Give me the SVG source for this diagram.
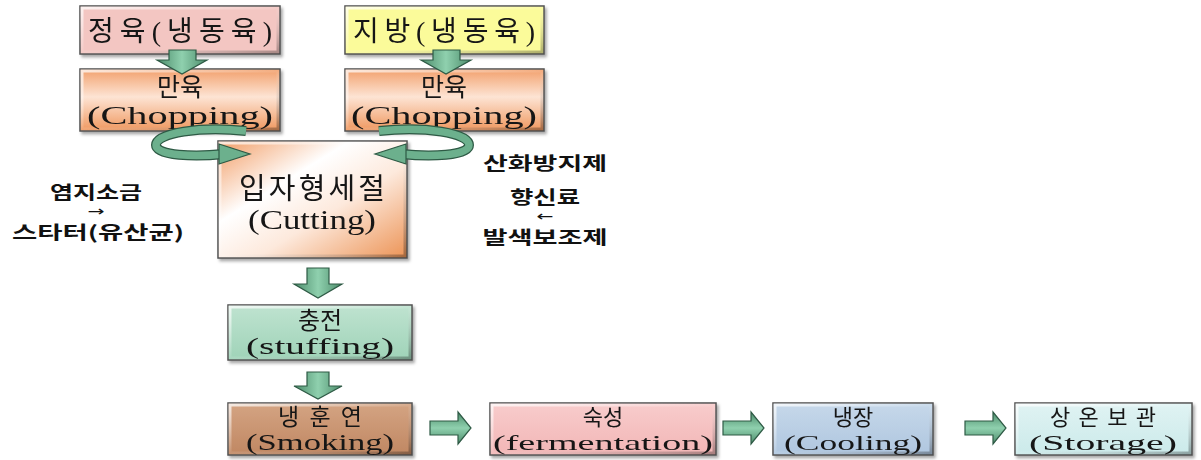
<svg xmlns="http://www.w3.org/2000/svg" width="1201" height="460" viewBox="0 0 1201 460">
<style>
.box{stroke:#505050;stroke-width:1.5}
.bev{fill:none;stroke:url(#bevel);stroke-width:3}
.t{font-family:'Liberation Serif','Noto Sans CJK KR',serif;fill:#161616;text-anchor:middle}
.side{font-family:'Noto Sans CJK KR',sans-serif;font-weight:bold;fill:#111;text-anchor:middle}
.arr{font-family:'DejaVu Sans',sans-serif;fill:#111;text-anchor:middle}
.av{fill:url(#gv);stroke:#2e5a45;stroke-width:1.2}
.ah{fill:url(#gh);stroke:#2e5a45;stroke-width:1.2}
.curveO{fill:none;stroke:#2e5a45;stroke-width:10;stroke-linecap:butt}
.curveI{fill:none;stroke:#6cb08d;stroke-width:7.5;stroke-linecap:butt}
</style>
<defs>
<filter id="sh" x="-10%" y="-10%" width="125%" height="130%"><feDropShadow dx="2" dy="2.5" stdDeviation="1.5" flood-color="#000" flood-opacity="0.35"/></filter>
<linearGradient id="bevel" x1="0" y1="0" x2="1" y2="1"><stop offset="0" stop-color="#fff" stop-opacity="0.75"/><stop offset="0.5" stop-color="#fff" stop-opacity="0.1"/><stop offset="1" stop-color="#000" stop-opacity="0.3"/></linearGradient>
<linearGradient id="gChop" x1="0" y1="0" x2="0" y2="1"><stop offset="0" stop-color="#f2a06c"/><stop offset="0.45" stop-color="#fde4d4"/><stop offset="1" stop-color="#ef975e"/></linearGradient>
<linearGradient id="gCut" x1="0" y1="0" x2="1" y2="1"><stop offset="0" stop-color="#f29c64"/><stop offset="0.35" stop-color="#ffffff"/><stop offset="0.6" stop-color="#fde9dc"/><stop offset="1" stop-color="#ec9355"/></linearGradient>
<linearGradient id="gStuff" x1="0" y1="0" x2="0" y2="1"><stop offset="0" stop-color="#bfe3d0"/><stop offset="1" stop-color="#9fd3b8"/></linearGradient>
<linearGradient id="gSmoke" x1="0" y1="0" x2="0" y2="1"><stop offset="0" stop-color="#d4a483"/><stop offset="1" stop-color="#c08762"/></linearGradient>
<linearGradient id="gFerm" x1="0" y1="0" x2="0" y2="1"><stop offset="0" stop-color="#f8cccc"/><stop offset="1" stop-color="#f2b6b6"/></linearGradient>
<linearGradient id="gCool" x1="0" y1="0" x2="0" y2="1"><stop offset="0" stop-color="#c6d8ea"/><stop offset="1" stop-color="#afc6df"/></linearGradient>
<linearGradient id="gStor" x1="0" y1="0" x2="0" y2="1"><stop offset="0" stop-color="#e0f3f3"/><stop offset="1" stop-color="#cbeaea"/></linearGradient>
<linearGradient id="gv" x1="0" y1="0" x2="1" y2="0"><stop offset="0" stop-color="#4c8c6b"/><stop offset="0.5" stop-color="#8fd0ae"/><stop offset="1" stop-color="#4c8c6b"/></linearGradient>
<linearGradient id="gh" x1="0" y1="0" x2="0" y2="1"><stop offset="0" stop-color="#4c8c6b"/><stop offset="0.5" stop-color="#8fd0ae"/><stop offset="1" stop-color="#4c8c6b"/></linearGradient>
<path id="curve" d="M 246 131 C 200 126, 156 133, 156 145 C 156 156, 195 157, 224 154"/>
</defs>
<rect width="1201" height="460" fill="#fff"/>

<g id="n-jeongyuk" filter="url(#sh)">
<rect class="box" x="80" y="6" width="200" height="48" fill="#f3c6c2"/>
<rect class="bev" x="82" y="8" width="196" height="44"/>
<text class="t" x="180" y="41" font-size="28" textLength="184">정육(냉동육)</text>
</g>
<g id="n-jibang" filter="url(#sh)">
<rect class="box" x="345" y="6" width="199" height="48" fill="#fbfb9a"/>
<rect class="bev" x="347" y="8" width="195" height="44"/>
<text class="t" x="444" y="41" font-size="28" textLength="182">지방(냉동육)</text>
</g>
<g id="n-chop1" filter="url(#sh)">
<rect class="box" x="80" y="69" width="200" height="62" fill="url(#gChop)"/>
<rect class="bev" x="82" y="71" width="196" height="58"/>
<text class="t" x="180" y="96" font-size="25">만육</text>
<text class="t" x="180" y="124" font-size="26" textLength="186" lengthAdjust="spacingAndGlyphs">(Chopping)</text>
</g>
<g id="n-chop2" filter="url(#sh)">
<rect class="box" x="345" y="69" width="199" height="62" fill="url(#gChop)"/>
<rect class="bev" x="347" y="71" width="195" height="58"/>
<text class="t" x="444" y="96" font-size="25">만육</text>
<text class="t" x="444" y="124" font-size="26" textLength="186" lengthAdjust="spacingAndGlyphs">(Chopping)</text>
</g>
<g id="n-cut" filter="url(#sh)">
<rect class="box" x="218" y="141" width="189" height="117" fill="url(#gCut)"/>
<rect class="bev" x="220" y="143" width="185" height="113"/>
<text class="t" x="312" y="199" font-size="29" textLength="146">입자형세절</text>
<text class="t" x="312" y="229" font-size="27" textLength="128" lengthAdjust="spacingAndGlyphs">(Cutting)</text>
</g>
<g id="n-stuff" filter="url(#sh)">
<rect class="box" x="228" y="305" width="184" height="55" fill="url(#gStuff)"/>
<rect class="bev" x="230" y="307" width="180" height="51"/>
<text class="t" x="320" y="329" font-size="24">충전</text>
<text class="t" x="320" y="354" font-size="24" textLength="148" lengthAdjust="spacingAndGlyphs">(stuffing)</text>
</g>
<g id="n-smoke" filter="url(#sh)">
<rect class="box" x="228" y="403" width="184" height="52" fill="url(#gSmoke)"/>
<rect class="bev" x="230" y="405" width="180" height="48"/>
<text class="t" x="320" y="425" font-size="23" textLength="84">냉훈연</text>
<text class="t" x="320" y="450" font-size="23" textLength="148" lengthAdjust="spacingAndGlyphs">(Smoking)</text>
</g>
<g id="n-ferm" filter="url(#sh)">
<rect class="box" x="490" y="403" width="226" height="52" fill="url(#gFerm)"/>
<rect class="bev" x="492" y="405" width="222" height="48"/>
<text class="t" x="603" y="425" font-size="22">숙성</text>
<text class="t" x="603" y="450" font-size="22" textLength="220" lengthAdjust="spacingAndGlyphs">(fermentation)</text>
</g>
<g id="n-cool" filter="url(#sh)">
<rect class="box" x="773" y="403" width="160" height="52" fill="url(#gCool)"/>
<rect class="bev" x="775" y="405" width="156" height="48"/>
<text class="t" x="853" y="425" font-size="22">냉장</text>
<text class="t" x="853" y="450" font-size="22" textLength="138" lengthAdjust="spacingAndGlyphs">(Cooling)</text>
</g>
<g id="n-stor" filter="url(#sh)">
<rect class="box" x="1015" y="403" width="177" height="52" fill="url(#gStor)"/>
<rect class="bev" x="1017" y="405" width="173" height="48"/>
<text class="t" x="1103" y="425" font-size="22" textLength="106">상온보관</text>
<text class="t" x="1103" y="450" font-size="22" textLength="148" lengthAdjust="spacingAndGlyphs">(Storage)</text>
</g>

<g id="n-left-additives">
<text class="side" x="96" y="199" font-size="18" textLength="92" lengthAdjust="spacingAndGlyphs">염지소금</text>
<text class="arr" x="96" y="216" font-size="14" textLength="17" lengthAdjust="spacingAndGlyphs">→</text>
<text class="side" x="98" y="239" font-size="18" textLength="172" lengthAdjust="spacingAndGlyphs">스타터(유산균)</text>
</g>
<g id="n-right-additives">
<text class="side" x="545" y="170" font-size="18" textLength="124" lengthAdjust="spacingAndGlyphs">산화방지제</text>
<text class="side" x="545" y="204" font-size="18" textLength="70" lengthAdjust="spacingAndGlyphs">향신료</text>
<text class="arr" x="545" y="221" font-size="14" textLength="17" lengthAdjust="spacingAndGlyphs">←</text>
<text class="side" x="545" y="244" font-size="18" textLength="125" lengthAdjust="spacingAndGlyphs">발색보조제</text>
</g>

<g id="connectors">
<polygon class="av" points="169,50 196,50 196,60 207,60 182,74 157,60 169,60"/>
<polygon class="av" points="433,50 460,50 460,60 471,60 446,74 421,60 433,60"/>
<polygon class="av" points="307,268 329,268 329,284 342,284 318,298 294,284 307,284"/>
<polygon class="av" points="307,372 329,372 329,386 342,386 318,399 294,386 307,386"/>
<polygon class="ah" points="430,421 458,421 458,412 471,428 458,444 458,435 430,435"/>
<polygon class="ah" points="723,421 751,421 751,412 764,428 751,444 751,435 723,435"/>
<polygon class="ah" points="965,421 993,421 993,412 1006,428 993,444 993,435 965,435"/>
<g id="curve-left">
<use href="#curve" class="curveO"/>
<use href="#curve" class="curveI"/>
<polygon class="av" style="fill:#6cb08d" points="219,144 250,154 219,164"/>
</g>
<g id="curve-right" transform="translate(625,0) scale(-1,1)">
<use href="#curve" class="curveO"/>
<use href="#curve" class="curveI"/>
<polygon class="av" style="fill:#6cb08d" points="219,144 250,154 219,164"/>
</g>
</g>
</svg>
